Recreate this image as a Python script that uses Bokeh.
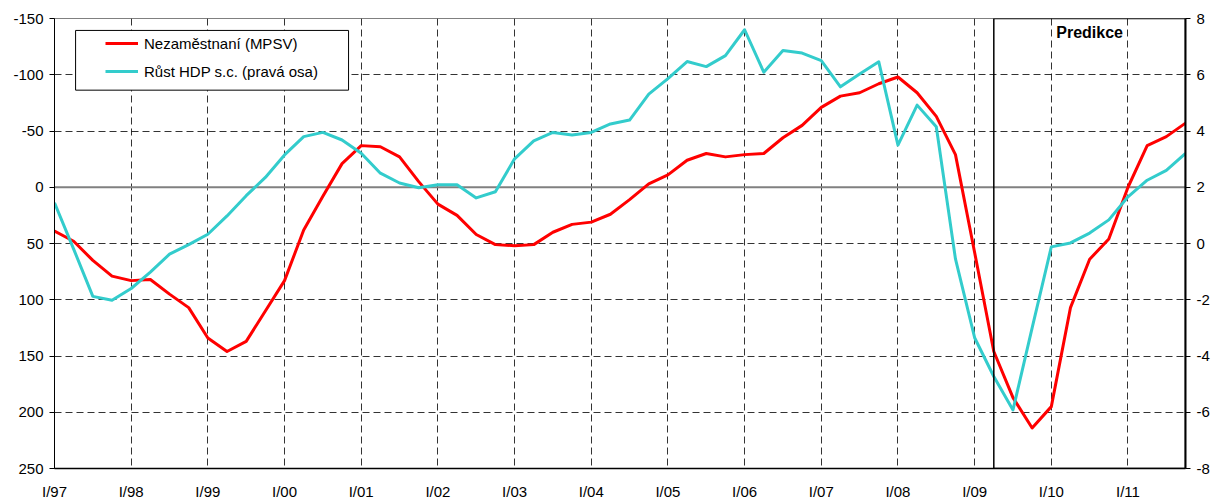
from bokeh.plotting import figure
from bokeh.models import (Range1d, LinearAxis, FixedTicker, Span, BoxAnnotation,
                          Label, Legend, LegendItem)
from bokeh.embed import file_html
from bokeh.resources import INLINE

# ---------------- data ----------------
years = ["97", "98", "99", "00", "01", "02", "03", "04", "05", "06", "07", "08", "09", "10", "11"]
quarter_names = ["I", "II", "III", "IV"]
quarters = [f"{q}/{y}" for y in years for q in quarter_names]

unemployment = [39, 48, 65, 79, 83, 82, 95, 107, 134, 146,
                137, 110, 83, 38, 8, -21, -37, -36, -27, -5,
                15, 25, 42, 51, 52, 51, 40, 33, 31, 24,
                11, -3, -11, -24, -30, -27, -29, -30, -44, -55,
                -71, -81, -84, -92, -98, -84, -63, -29, 58, 146,
                187, 214, 195, 107, 64, 46, 0, -37, -45, -57]

gdp_growth = [1.45, -0.2, -1.88, -2.02, -1.6, -1.02, -0.38, -0.04, 0.33, 0.98,
              1.7, 2.35, 3.15, 3.8, 3.95, 3.68, 3.21, 2.5, 2.15, 1.98,
              2.09, 2.09, 1.62, 1.84, 3.01, 3.65, 3.95, 3.86, 3.95, 4.25,
              4.39, 5.31, 5.86, 6.47, 6.29, 6.68, 7.6, 6.09, 6.86, 6.77,
              6.5, 5.57, 6.03, 6.46, 3.5, 4.92, 4.15, -0.55, -3.35, -4.73,
              -5.92, -3.0, -0.12, 0.02, 0.37, 0.84, 1.66, 2.25, 2.6, 3.2]

left_ticks = [-150, -100, -50, 0, 50, 100, 150, 200, 250]
right_ticks = [-8, -6, -4, -2, 0, 2, 4, 6, 8]
x_tick_labels = [f"I/{y}" for y in years]

series_names = ["Nezaměstnaní (MPSV)", "Růst HDP s.c. (pravá osa)"]
forecast_start = "II/09"
forecast_label = "Predikce"

# ---------------- figure ----------------
x = list(range(len(quarters)))
x_ticks = [quarters.index(lbl) for lbl in x_tick_labels]

FONT = "Liberation Sans"

p = figure(width=1215, height=502, output_backend="svg", toolbar_location=None,
           x_range=Range1d(0, len(quarters) - 1),
           y_range=Range1d(left_ticks[-1], left_ticks[0]),
           min_border_left=54, min_border_right=30, min_border_top=18,
           min_border_bottom=32)
p.extra_y_ranges = {"gdp": Range1d(right_ticks[0], right_ticks[-1])}
p.outline_line_color = "#808080"
p.outline_line_width = 1
p.background_fill_color = "white"
p.border_fill_color = "white"

# grids
p.xgrid.ticker = FixedTicker(ticks=x_ticks)
p.ygrid.ticker = FixedTicker(ticks=left_ticks)
for g in (p.xgrid, p.ygrid):
    g.grid_line_color = "#000000"
    g.grid_line_alpha = 0.8
    g.grid_line_width = 1
    g.grid_line_dash = "7 4"

zero = Span(location=0, dimension="width", line_color="#808080", line_width=2,
            level="underlay")
p.add_layout(zero)

# x axis
xa = p.xaxis[0]
xa.ticker = FixedTicker(ticks=x_ticks)
xa.major_label_overrides = {t: lbl for t, lbl in zip(x_ticks, x_tick_labels)}
xa.major_tick_out = 0
xa.major_tick_in = 0
xa.minor_tick_line_color = None
xa.major_label_standoff = 14
xa.axis_line_color = "black"
xa.axis_line_width = 1.5

# left axis
ya = p.yaxis[0]
ya.ticker = FixedTicker(ticks=left_ticks)
ya.major_label_overrides = {t: str(t) for t in left_ticks}
ya.major_tick_out = 5
ya.major_tick_in = 0
ya.minor_tick_line_color = None
ya.major_label_standoff = 6
ya.axis_line_color = "black"
ya.major_tick_line_color = "black"

# right axis
ra = LinearAxis(y_range_name="gdp")
ra.ticker = FixedTicker(ticks=right_ticks)
ra.major_label_overrides = {t: str(t) for t in right_ticks}
ra.major_tick_out = 5
ra.major_tick_in = 0
ra.minor_tick_line_color = None
ra.major_label_standoff = 6
ra.axis_line_color = "black"
ra.axis_line_width = 2
ra.major_tick_line_color = "black"
p.add_layout(ra, "right")

for ax in (xa, ya, ra):
    ax.major_label_text_font = FONT
    ax.major_label_text_font_size = "15px"
    ax.major_label_text_color = "black"

# forecast box
fs = quarters.index(forecast_start)
box = BoxAnnotation(left=fs, right=len(quarters) - 1,
                    bottom=left_ticks[-1], top=left_ticks[0],
                    fill_alpha=0, line_color="black", line_alpha=1, line_width=1.5)
p.add_layout(box)
p.add_layout(Label(x=(fs + len(quarters) - 1) / 2, y=-137.6, text=forecast_label,
                   text_font=FONT, text_font_size="16px", text_font_style="bold",
                   text_align="center", text_baseline="middle", text_color="black"))

# series
r1 = p.line(x, unemployment, line_color="#FF0000", line_width=3, line_join="round")
r2 = p.line(x, gdp_growth, y_range_name="gdp", line_color="#33CCCC", line_width=3,
            line_join="round")

# legend frame
legend_box = BoxAnnotation(left=1.1, right=15.34, top=-139.4, bottom=-86.3,
                           fill_color="white", fill_alpha=1,
                           line_color="black", line_alpha=1, line_width=1)
p.add_layout(legend_box)

legend = Legend(items=[LegendItem(label=series_names[0], renderers=[r1]),
                       LegendItem(label=series_names[1], renderers=[r2])],
                location=(51, 387), padding=0, spacing=8,
                glyph_width=33, glyph_height=20, label_standoff=6,
                label_text_font=FONT, label_text_font_size="15px",
                label_text_color="black",
                background_fill_alpha=0, border_line_color=None)
p.add_layout(legend)

open("out.html", "w").write(file_html(p, INLINE))
